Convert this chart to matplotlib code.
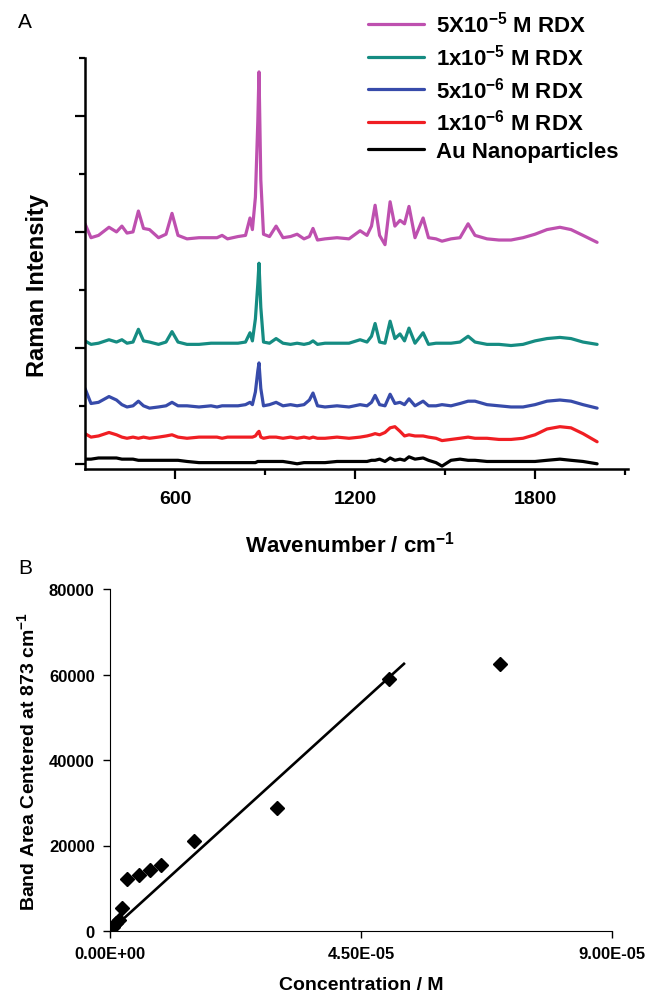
import matplotlib
matplotlib.use('Agg')
import matplotlib.pyplot as plt
from matplotlib.ticker import MultipleLocator, FixedLocator

plt.rcParams['font.family'] = ['Liberation Sans', 'DejaVu Sans']
plt.rcParams['font.weight'] = 'bold'
plt.rcParams['axes.labelweight'] = 'bold'
plt.rcParams['mathtext.fontset'] = 'custom'
plt.rcParams['mathtext.rm'] = 'Liberation Sans:bold'
plt.rcParams['mathtext.bf'] = 'Liberation Sans:bold'
plt.rcParams['mathtext.it'] = 'Liberation Sans:bold'

# panel A: Raman spectra (offset, arbitrary units)
wavenumber = [300, 320, 345, 380, 405, 423, 440, 460, 478, 495,
              515, 545, 570, 590, 610, 640, 680, 720, 740, 757,
              775, 810, 835, 850, 858, 868, 876, 880, 886, 895,
              915, 937, 960, 985, 1007, 1030, 1048, 1060, 1075, 1100,
              1140, 1180, 1217, 1240, 1255, 1267, 1282, 1300, 1317, 1333,
              1350, 1365, 1380, 1400, 1427, 1445, 1470, 1490, 1520, 1550,
              1577, 1600, 1640, 1680, 1720, 1760, 1800, 1840, 1883, 1920,
              1960, 2007]

rdx_5e5 = [2.07, 1.95, 1.97, 2.04, 2.00, 2.05, 1.99, 2.00, 2.18, 2.03,
           2.02, 1.95, 1.98, 2.16, 1.97, 1.94, 1.95, 1.95, 1.95, 1.97,
           1.94, 1.96, 1.97, 2.12, 2.02, 2.30, 2.95, 3.38, 2.45, 1.98,
           1.96, 2.05, 1.95, 1.96, 1.98, 1.94, 1.96, 2.03, 1.93, 1.94,
           1.95, 1.94, 2.01, 1.97, 2.05, 2.23, 1.97, 1.89, 2.26, 2.05,
           2.10, 2.07, 2.22, 1.95, 2.12, 1.95, 1.94, 1.92, 1.94, 1.95,
           2.07, 1.97, 1.94, 1.93, 1.93, 1.95, 1.98, 2.02, 2.04, 2.02,
           1.97, 1.91]

rdx_1e5 = [1.06, 1.03, 1.04, 1.07, 1.05, 1.07, 1.04, 1.05, 1.16, 1.06,
           1.05, 1.03, 1.05, 1.14, 1.05, 1.03, 1.03, 1.04, 1.04, 1.04,
           1.04, 1.04, 1.05, 1.13, 1.06, 1.25, 1.55, 1.73, 1.35, 1.05,
           1.04, 1.08, 1.04, 1.03, 1.04, 1.03, 1.04, 1.06, 1.03, 1.04,
           1.04, 1.04, 1.07, 1.05, 1.10, 1.21, 1.05, 1.04, 1.23, 1.08,
           1.12, 1.06, 1.17, 1.04, 1.13, 1.03, 1.04, 1.04, 1.04, 1.05,
           1.10, 1.05, 1.03, 1.03, 1.02, 1.03, 1.06, 1.08, 1.09, 1.08,
           1.05, 1.03]

rdx_5e6 = [0.65, 0.52, 0.53, 0.58, 0.55, 0.51, 0.49, 0.50, 0.54, 0.50,
           0.48, 0.49, 0.50, 0.53, 0.50, 0.50, 0.49, 0.50, 0.49, 0.50,
           0.50, 0.50, 0.51, 0.53, 0.51, 0.62, 0.80, 0.87, 0.65, 0.50,
           0.51, 0.53, 0.50, 0.51, 0.50, 0.51, 0.55, 0.61, 0.50, 0.49,
           0.50, 0.49, 0.51, 0.50, 0.53, 0.59, 0.51, 0.50, 0.60, 0.52,
           0.53, 0.51, 0.56, 0.50, 0.54, 0.50, 0.50, 0.51, 0.50, 0.52,
           0.54, 0.54, 0.51, 0.50, 0.49, 0.49, 0.51, 0.54, 0.55, 0.54,
           0.51, 0.48]

rdx_1e6 = [0.26, 0.23, 0.24, 0.27, 0.25, 0.23, 0.22, 0.23, 0.22, 0.23,
           0.22, 0.23, 0.24, 0.25, 0.23, 0.22, 0.23, 0.23, 0.23, 0.22,
           0.23, 0.23, 0.23, 0.23, 0.23, 0.24, 0.27, 0.28, 0.23, 0.22,
           0.23, 0.23, 0.22, 0.23, 0.22, 0.23, 0.22, 0.23, 0.22, 0.22,
           0.23, 0.22, 0.23, 0.24, 0.25, 0.26, 0.25, 0.27, 0.31, 0.32,
           0.28, 0.24, 0.25, 0.24, 0.24, 0.23, 0.22, 0.20, 0.21, 0.22,
           0.23, 0.22, 0.22, 0.21, 0.21, 0.22, 0.25, 0.30, 0.32, 0.31,
           0.26, 0.19]

au_np = [0.04, 0.04, 0.05, 0.05, 0.05, 0.04, 0.04, 0.04, 0.03, 0.03,
         0.03, 0.03, 0.03, 0.03, 0.03, 0.02, 0.01, 0.01, 0.01, 0.01,
         0.01, 0.01, 0.01, 0.01, 0.01, 0.01, 0.02, 0.02, 0.02, 0.02,
         0.02, 0.02, 0.02, 0.01, 0.00, 0.01, 0.01, 0.01, 0.01, 0.01,
         0.02, 0.02, 0.02, 0.02, 0.03, 0.03, 0.04, 0.02, 0.05, 0.03,
         0.04, 0.03, 0.06, 0.04, 0.05, 0.03, 0.01, -0.02, 0.03, 0.04,
         0.03, 0.03, 0.02, 0.02, 0.02, 0.02, 0.02, 0.03, 0.04, 0.03,
         0.02, 0.00]

spectra = [rdx_5e5, rdx_1e5, rdx_5e6, rdx_1e6, au_np]
spectra_labels = ['5X10$^{-5}$ M RDX', '1x10$^{-5}$ M RDX', '5x10$^{-6}$ M RDX',
                  '1x10$^{-6}$ M RDX', 'Au Nanoparticles']
spectra_colors = ['#BE50AF', '#158C82', '#374BAA', '#F01E23', '#000000']

# panel B: band area vs concentration
conc = [0.0, 5e-7, 1.1e-6, 1.6e-6, 2.1e-6, 3.1e-6, 5.2e-6, 7.2e-6, 9.1e-6,
        1.51e-5, 3.0e-5, 5.0e-5, 7.0e-5]
band_area = [200, 1000, 1900, 2600, 5300, 12100, 13200, 14200, 15400,
             21000, 28700, 59000, 62500]
fit_conc = [0.0, 5.27e-5]
fit_area = [0, 62500]


def main():
    fig = plt.figure(figsize=(6.48, 9.95), dpi=100)

    # ---- panel A
    ax = fig.add_axes([85 / 648, 1 - 470 / 995, 543 / 648, 411 / 995])
    lines = []
    for y, lab, col in zip(spectra, spectra_labels, spectra_colors):
        ln, = ax.plot(wavenumber, y, color=col, lw=2.3, label=lab,
                      solid_joinstyle='round', solid_capstyle='round')
        lines.append(ln)

    ax.set_xlim(300, 2110)
    ax.set_ylim(-0.045, 3.5)
    for s in ['top', 'right']:
        ax.spines[s].set_visible(False)
    for s in ['left', 'bottom']:
        ax.spines[s].set_linewidth(1.8)

    ax.xaxis.set_major_locator(FixedLocator([600, 1200, 1800]))
    ax.xaxis.set_minor_locator(FixedLocator([900, 1500, 2100]))
    ax.yaxis.set_major_locator(MultipleLocator(1))
    ax.yaxis.set_minor_locator(FixedLocator([0.5, 1.5, 2.5, 3.5]))
    ax.set_yticklabels([])
    ax.tick_params(which='major', direction='out', length=7, width=1.6,
                   labelsize=14, pad=8)
    ax.tick_params(which='minor', direction='out', length=4, width=1.6)

    ax.set_xlabel('Wavenumber / cm$^{-1}$', fontsize=16, va='center')
    ax.xaxis.set_label_coords(0.488, -0.182)
    ax.set_ylabel('Raman Intensity', fontsize=17, va='center')
    ax.yaxis.set_label_coords(-0.087, 0.45)

    ax.legend(lines, spectra_labels, loc='upper left',
              bbox_to_anchor=(368 / 648, 1 - 12 / 995),
              bbox_transform=fig.transFigure, frameon=False,
              fontsize=16, handlelength=2.5, handletextpad=0.55,
              labelspacing=0.3, borderpad=0, borderaxespad=0)

    fig.text(18 / 648, 1 - 22 / 995, 'A', fontsize=15, fontweight='normal',
             ha='left', va='center')

    # ---- panel B
    bx = fig.add_axes([110 / 648, 1 - 932 / 995, 502 / 648, 342 / 995])
    bx.plot(fit_conc, fit_area, color='black', lw=1.9)
    bx.plot(conc, band_area, linestyle='none', marker='D', ms=7,
            color='black')
    bx.set_xlim(0, 9e-5)
    bx.set_ylim(0, 80000)
    for s in ['top', 'right']:
        bx.spines[s].set_visible(False)
    bx.set_xticks([0, 4.5e-5, 9e-5])
    bx.set_xticklabels(['0.00E+00', '4.50E-05', '9.00E-05'])
    bx.set_yticks([0, 20000, 40000, 60000, 80000])
    bx.tick_params(direction='out', length=5, width=1, labelsize=12, pad=6)
    bx.set_xlabel('Concentration / M', fontsize=14, va='center')
    bx.xaxis.set_label_coords(0.5, -0.155)
    bx.set_ylabel('Band Area Centered at 873 cm$^{-1}$', fontsize=14,
                  va='center')
    bx.yaxis.set_label_coords(-0.165, 0.5)

    fig.text(18 / 648, 1 - 568 / 995, 'B', fontsize=15, fontweight='normal',
             ha='left', va='center')

    fig.savefig('out.png', dpi=100)


if __name__ == '__main__':
    main()
